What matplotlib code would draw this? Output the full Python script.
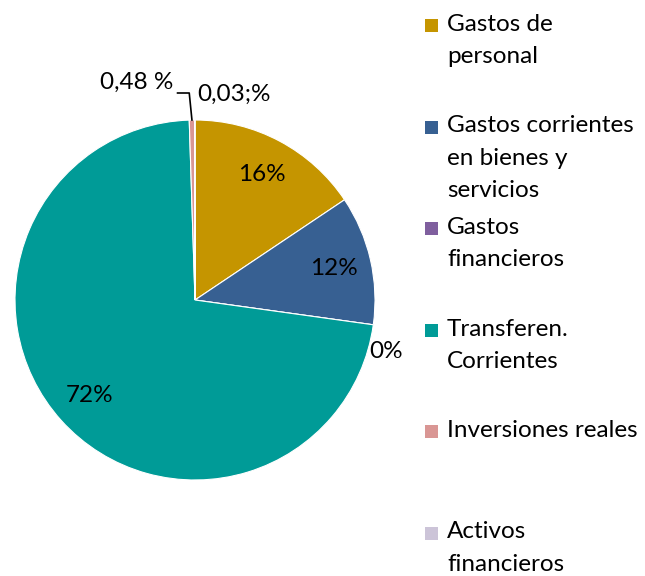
import numpy as np
import matplotlib.pyplot as plt
from matplotlib.patches import Rectangle

categorias = ['Gastos de\npersonal', 'Gastos corrientes\nen bienes y\nservicios',
              'Gastos\nfinancieros', 'Transferen.\nCorrientes',
              'Inversiones reales', 'Activos\nfinancieros']
valores = [15.6, 11.6, 0.0, 72.29, 0.48, 0.03]
etiquetas = ['16%', '12%', '0%', '72%', '0,48 %', '0,03;%']
colores = ['#C59500', '#376092', '#7F5F9E', '#009B97', '#D99694', '#CCC4D8']

plt.rcParams['font.family'] = ['Lato', 'DejaVu Sans']

fig = plt.figure(figsize=(6.45, 5.76), dpi=100)
ax = fig.add_axes([0, 0, 1, 1])

wedges, _ = ax.pie(valores, colors=colores, startangle=90, counterclock=False,
                   radius=1.0, wedgeprops=dict(edgecolor='white', linewidth=0.8))
for w in wedges:
    w.set_clip_on(False)

ax.set_aspect('auto')
ax.set_xlim(-195 / 180, 450 / 180)
ax.set_ylim(-276 / 180, 300 / 180)
ax.axis('off')

# etiquetas de porcentaje
total = sum(valores)
acum = 0
for i, v in enumerate(valores):
    mid = 90 - (acum + v / 2) / total * 360
    acum += v
    t = np.deg2rad(mid)
    if i in (0, 1, 3):
        ax.text(0.79 * np.cos(t), 0.79 * np.sin(t), etiquetas[i],
                ha='center', va='center', fontsize=17.5)
    elif i == 2:
        ax.text(1.07 * np.cos(t), 1.07 * np.sin(t) - 0.14, etiquetas[i],
                ha='center', va='center', fontsize=17.5)
    elif i == 4:
        x0, y0 = np.cos(t), np.sin(t)
        ax.plot([x0, x0 - 0.015, x0 - 0.08], [y0, 1.15, 1.15],
                color='black', lw=1.2, clip_on=False)
        ax.text(x0 - 0.105, 1.21, etiquetas[i], ha='right', va='center', fontsize=17.5)
    else:
        ax.text(0.01, 1.14, etiquetas[i], ha='left', va='center', fontsize=17.5)

# leyenda
for i, lab in enumerate(categorias):
    ytop = 576 - (25 + i * 101.5)
    fig.patches.append(Rectangle((425 / 645, (ytop - 7) / 576), 13 / 645, 13 / 576,
                                 transform=fig.transFigure, facecolor=colores[i],
                                 edgecolor='none'))
    fig.text(447 / 645, (ytop + 11) / 576, lab, ha='left', va='top',
             fontsize=17.5, linespacing=1.65)

fig.savefig('out.png', dpi=100)
